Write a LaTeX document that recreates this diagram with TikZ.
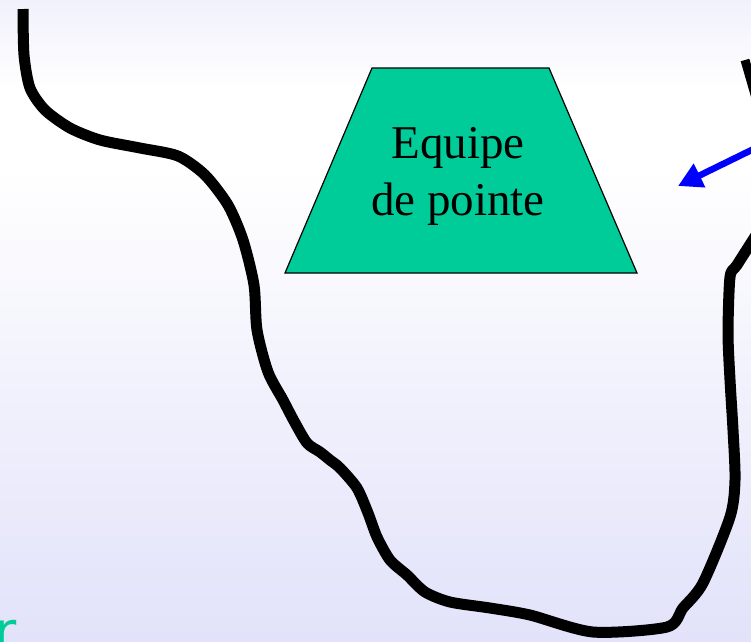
\documentclass[tikz,border=0pt]{standalone}
\usepackage{fontspec}
\setmainfont{Liberation Serif}
\newfontfamily\greensans{DejaVu Sans}
\usetikzlibrary{arrows.meta}
\definecolor{teamgreen}{HTML}{00CC99}
\definecolor{bgtop}{HTML}{F1F1FC}
\definecolor{bgbot}{HTML}{E2E2FA}
\pgfdeclareverticalshading{pagebg}{100bp}{color(0bp)=(bgbot); color(25bp)=(bgbot); color(62bp)=(white); color(68bp)=(white); color(75bp)=(bgtop); color(100bp)=(bgtop)}
\tikzset{
  river/.style={line width=11pt, black, line join=round},
  teambox/.style={fill=teamgreen, draw=black, line width=1.2pt},
  pointer/.style={blue, line width=6.5pt, -{Triangle[length=24pt,width=25pt]}},
}
\begin{document}
\begin{tikzpicture}[x=1pt,y=-1pt]
\useasboundingbox (0,0) rectangle (751,641);
\clip (0,0) rectangle (751,641);
\shade[shading=pagebg] (0,0) rectangle (751,641);
% river outline
\draw[river] plot[smooth, tension=0.45] coordinates {
 (23,9) (24,55) (30,88) (45,110) (70,128) (100,140) (140,148) (178,156)
 (205,175) (228,205) (243,240) (254,285) (257,330) (268,372) (283,400)
 (294,421) (307,443) (320,452) (330,460) (340,468) (357,488) (368,513)
 (377,537) (390,560) (407,575) (425,592) (450,602) (490,608) (530,615)
 (593,632) (667,627) (683,608) (703,583) (730,517) (735,480) (733,430)
 (730,380) (728,333) (730,277) (737,265) (758,232)};
% top-right stroke
\coordinate (vtop) at (745,60);
\coordinate (vbot) at (758,105);
\draw[line width=9pt] (vtop) -- (vbot);
% team trapezoid
\coordinate (tl) at (372,68);
\coordinate (tr) at (549,68);
\coordinate (br) at (637,273);
\coordinate (bl) at (285,273);
\draw[teambox] (tl) -- (tr) -- (br) -- (bl) -- cycle;
\node[align=center, font=\fontsize{47}{57}\selectfont, inner sep=0pt] (team) at (458,176) {Equipe\\de pointe};
% blue arrow
\coordinate (astart) at (770,141);
\coordinate (atip) at (678,186);
\draw[pointer] (astart) -- (atip);
% green partial text
\node[anchor=base west, inner sep=0pt, text=teamgreen, font=\greensans\fontsize{54}{60}\selectfont] (rtext) at (-6,650) {r};
\end{tikzpicture}
\end{document}
